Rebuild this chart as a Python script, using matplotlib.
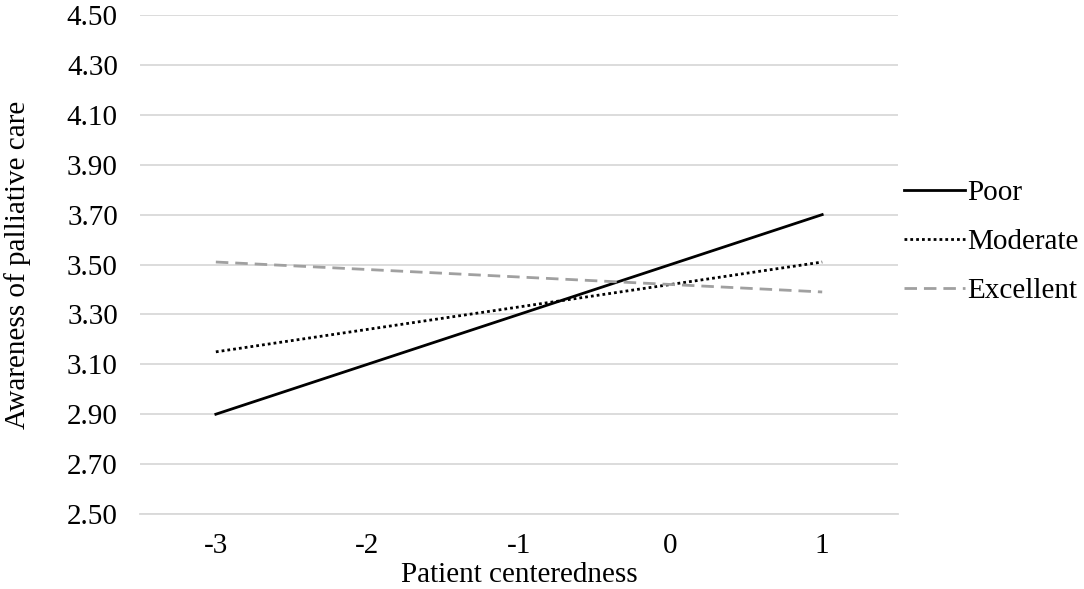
import numpy as np
import matplotlib
matplotlib.use('Agg')
import matplotlib.pyplot as plt

plt.rcParams['font.family'] = ['Liberation Serif', 'DejaVu Serif']

# data
categories = ['-3', '-2', '-1', '0', '1']
poor = [2.90, 3.10, 3.30, 3.50, 3.70]
moderate = [3.15, 3.24, 3.33, 3.42, 3.51]
excellent = [3.51, 3.48, 3.45, 3.42, 3.39]
yticks = np.arange(2.50, 4.51, 0.20)

fig = plt.figure(figsize=(10.84, 5.89), dpi=100)
ax = fig.add_axes([0.1292, 0.1273, 0.6992, 0.8472])

x = np.arange(len(categories))
ax.plot(x, poor, '-', color='black', linewidth=2.0, label='Poor')
ax.plot(x, moderate, color='black', linewidth=2.0, linestyle=(0, (1, 1.1)), label='Moderate')
ax.plot(x, excellent, color='#a0a0a0', linewidth=2.0, linestyle=(0, (4.5, 2.5)), label='Excellent')

ax.set_xlim(-0.5, len(categories) - 0.5)
ax.set_ylim(2.50, 4.50)
ax.set_xticks(x)
ax.set_xticklabels(categories)
ax.set_yticks(yticks)
ax.set_yticklabels([f"{v:.2f}" for v in yticks])
ax.tick_params(axis='both', length=0, labelsize=21)
ax.tick_params(axis='y', pad=16)
ax.tick_params(axis='x', pad=14)
ax.grid(axis='y', color='#d9d9d9', linewidth=1.3)
ax.set_axisbelow(True)
for s in ['top', 'right', 'left']:
    ax.spines[s].set_visible(False)
ax.spines['bottom'].set_color('#d9d9d9')
ax.spines['bottom'].set_linewidth(1.3)

ax.set_xlabel("Patient centeredness", fontsize=21, labelpad=2)
ax.set_ylabel("Awareness of palliative care", fontsize=21, labelpad=26)

ax.legend(loc='center left', bbox_to_anchor=(1.0, 0.545), frameon=False, fontsize=21,
          handlelength=2.1, handletextpad=0.08, labelspacing=0.78, borderaxespad=0.1,
          borderpad=0.1)

plt.savefig("out.png")
plt.close()
